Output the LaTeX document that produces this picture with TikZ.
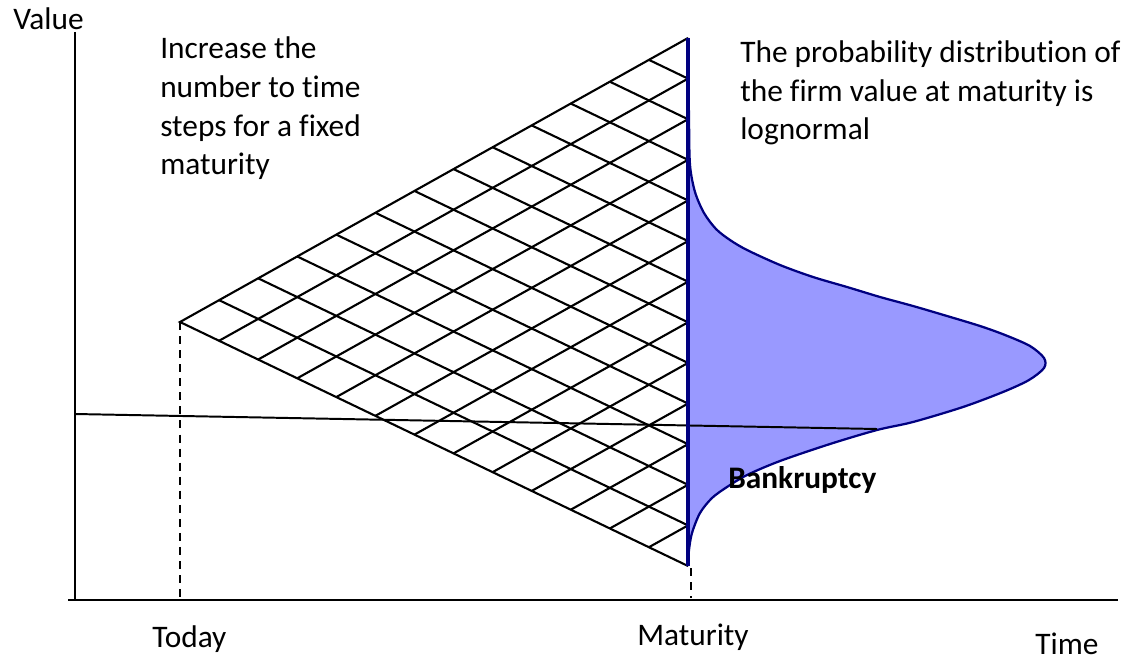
\documentclass[tikz,border=0pt]{standalone}
\usepackage{fontspec}
\setmainfont{Carlito}[Ligatures=NoCommon]
\usepackage{xcolor}
\usetikzlibrary{calc}
\definecolor{DistFill}{HTML}{9999FF}
\definecolor{DistLine}{HTML}{000080}
\tikzset{
    % Axis lines
    axisline/.style={
        draw=black,
        line width=2pt
    },
    % Lattice lines
    gridline/.style={
        draw=black,
        line width=1.5pt
    },
    % Dashed guides down to the time axis
    guideline/.style={
        draw=black,
        line width=1.5pt,
        dash pattern=on 5.7pt off 4.3pt
    },
    % Distribution at maturity
    distcurve/.style={
        draw=DistLine,
        fill=DistFill,
        line width=1.6pt
    },
    % Maturity line
    matline/.style={
        draw=DistLine,
        line width=2.3pt
    },
    % Text labels (base = last line)
    labeltext/.style={
        inner sep=0pt,
        anchor=base west,
        align=left,
        font=\fontsize{22.3}{27.6}\selectfont
    }
}
\begin{document}
\begin{tikzpicture}[x=0.025cm, y=-0.025cm]
        \useasboundingbox (0,0) rectangle (1129,663);

        % Axes
        \coordinate (ytop) at (75,32);
        \coordinate (ybot) at (75,601);
        \coordinate (xleft) at (68,600);
        \coordinate (xright) at (1118,600);
        \draw[axisline] (ytop) -- (ybot);
        \draw[axisline] (xleft) -- (xright);

        % Lattice corners
        \coordinate (apex) at (180,322);
        \coordinate (top) at (688,38);
        \coordinate (bot) at (688,566);

        % Lattice
        \draw[gridline] (top) -- (apex) -- (bot);
        \foreach \k in {1,...,12} {
            \draw[gridline] ($(apex)!\k/13!(top)$) -- ($(bot)!\k/13!(top)$);
            \draw[gridline] ($(apex)!\k/13!(bot)$) -- ($(top)!\k/13!(bot)$);
        }

        % Guides to the time axis
        \coordinate (today) at (180,598);
        \coordinate (matfoot) at (691,568);
        \coordinate (mataxis) at (691,598);
        \draw[guideline] (apex) -- (today);
        \draw[guideline] (matfoot) -- (mataxis);

        % Lognormal distribution
        \draw[distcurve] plot[smooth, tension=0.5] coordinates {
            (688,38) (689,120) (690,165) (695,192) (704,213) (716,229) (730,240)
            (747,250) (780,265) (813,277) (847,287) (880,297) (913,306)
            (947,316) (980,326) (1005,335) (1030,346) (1044,358) (1044,368)
            (1029,380) (1003,392) (963,407) (913,422) (877,430) (830,444)
            (780,461) (747,475) (727,487) (712,498) (700,513) (692,533)
            (689,550) (688,566)} -- cycle;

        % Bankruptcy threshold
        \coordinate (barrierleft) at (75,414);
        \coordinate (barrierright) at (877,429);
        \draw[line width=1.4pt] (barrierleft) -- (barrierright);

        % Maturity line
        \draw[matline] (top) -- (bot);

        % Labels
        \node[labeltext] (value) at (13,30) {Value};
        \node[labeltext] (steps) at (160,175) {Increase the\\number to time\\steps for a fixed\\maturity};
        \node[labeltext] (lognormal) at (740,140) {The probability distribution of\\the firm value at maturity is\\lognormal};
        \node[labeltext, font=\fontsize{22.3}{27.6}\selectfont\bfseries] (bankruptcy) at (728,488) {Bankruptcy};
        \node[labeltext] (todaylabel) at (152,647) {Today};
        \node[labeltext] (maturity) at (637,645) {Maturity};
        \node[labeltext] (time) at (1035,654) {Time};
    \end{tikzpicture}
\end{document}
